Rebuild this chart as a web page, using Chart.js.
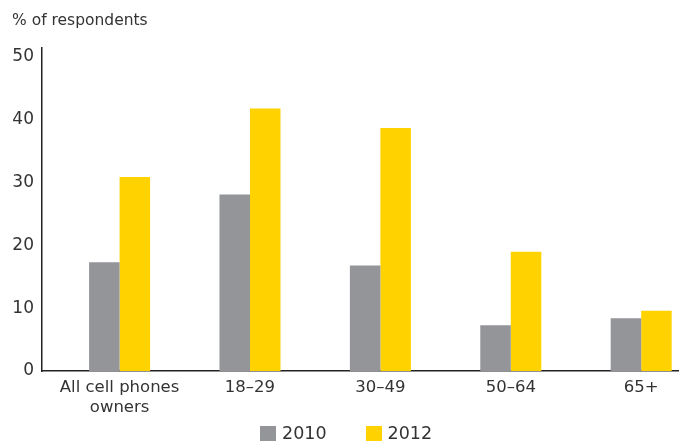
<!DOCTYPE html>
<html lang="en">
  <head>
    <meta charset="UTF-8" />
    <title>Chart</title>
    <style>
      html, body { margin: 0; padding: 0; background: #fff; }
      body { font-family: "DejaVu Sans", sans-serif; color: #333; }
      .wrap { position: relative; width: 679px; height: 441px; }
      .title { position: absolute; left: 12px; top: 11px; font-size: 15.5px; line-height: 19px; color: #333; }
      .legend { position: absolute; left: 260px; top: 423px; display: flex; align-items: center; font-size: 17.5px; line-height: 20px; color: #333; }
      .legend span.box { display: inline-block; width: 16px; height: 15px; margin-right: 6px; }
      .legend span.item { display: flex; align-items: center; margin-right: 39px; }
    </style>
  </head>
  <body>
    <div class="wrap">
      <canvas id="myChart" width="679" height="441"></canvas>
      <div class="title">% of respondents</div>
      <div class="legend" id="legend"></div>
    </div>

    <script src="https://cdn.jsdelivr.net/npm/chart.js"></script>
    <script>
      const categories = [["All cell phones", "owners"], "18–29", "30–49", "50–64", "65+"];
      const seriesNames = ["2010", "2012"];
      const values2010 = [17.3, 28.1, 16.8, 7.3, 8.4];
      const values2012 = [30.9, 41.8, 38.7, 19.0, 9.6];
      const yTicks = [0, 10, 20, 30, 40, 50];

      const colors = ["#939598", "#FFD200"];
      const font = "'DejaVu Sans', sans-serif";

      const toPoints = vals => vals.map((v, i) => ({ x: i, y: v }));

      const ctx = document.getElementById('myChart').getContext('2d');
      const chart = new Chart(ctx, {
        type: 'bar',
        data: {
          datasets: [
            { label: seriesNames[0], data: toPoints(values2010), backgroundColor: colors[0] },
            { label: seriesNames[1], data: toPoints(values2012), backgroundColor: colors[1] }
          ]
        },
        options: {
          responsive: false,
          animation: false,
          layout: { padding: { top: 48, right: 0, left: 0, bottom: 0 } },
          datasets: { bar: { categoryPercentage: 0.468, barPercentage: 1 } },
          plugins: { legend: { display: false }, tooltip: { enabled: false } },
          scales: {
            x: {
              type: 'linear',
              offset: false,
              min: -0.595,
              max: 4.29,
              grid: { display: false, drawTicks: false },
              border: { display: true, color: '#222', width: 1.5 },
              afterBuildTicks: s => { s.ticks = categories.map((c, i) => ({ value: i })); },
              afterFit: s => { s.height = 70; },
              ticks: {
                autoSkip: false,
                maxRotation: 0,
                padding: 7,
                color: '#333',
                font: { family: font, size: 16.5, lineHeight: 1.2 },
                callback: v => categories[v]
              }
            },
            y: {
              min: 0,
              max: 51.44,
              grid: { display: false, drawTicks: false },
              border: { display: true, color: '#222', width: 1.5 },
              afterBuildTicks: s => { s.ticks = yTicks.map(v => ({ value: v })); },
              afterFit: s => { s.width = 42; },
              ticks: {
                padding: 8,
                color: '#333',
                font: { family: font, size: 17 }
              }
            }
          }
        }
      });

      // html legend
      const legend = document.getElementById('legend');
      seriesNames.forEach((name, i) => {
        const item = document.createElement('span');
        item.className = 'item';
        item.innerHTML = '<span class="box" style="background:' + colors[i] + '"></span>' + name;
        legend.appendChild(item);
      });
    </script>
  </body>
</html>
